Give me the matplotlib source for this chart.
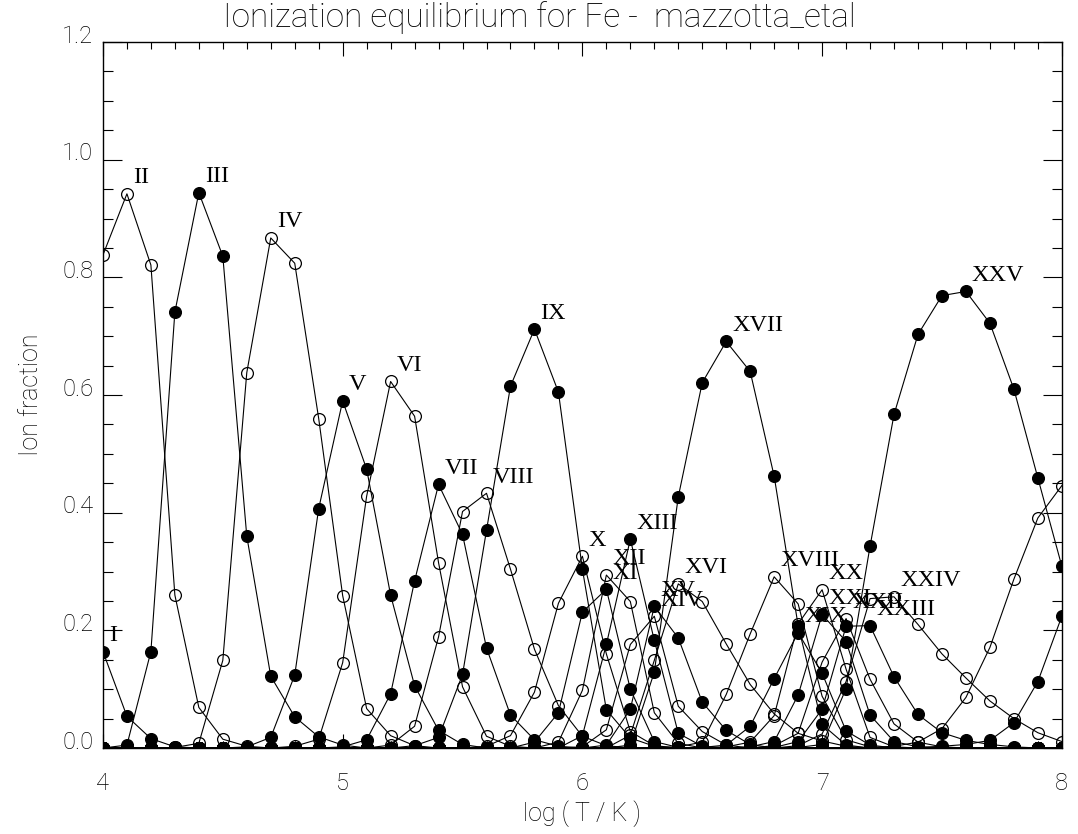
import numpy as np
import matplotlib
matplotlib.use('Agg')
import matplotlib.pyplot as plt
import matplotlib.transforms as mtransforms
from matplotlib.ticker import MultipleLocator

# temperature grid of the ionization table
log_t = np.round(np.arange(4.0, 8.001, 0.1), 1)

ion_names = ['I', 'II', 'III', 'IV', 'V', 'VI', 'VII', 'VIII', 'IX', 'X',
             'XI', 'XII', 'XIII', 'XIV', 'XV', 'XVI', 'XVII', 'XVIII', 'XIX',
             'XX', 'XXI', 'XXII', 'XXIII', 'XXIV', 'XXV', 'XXVI', 'XXVII']

# first log T of each ion's non-zero stretch
t_first = [4.0, 4.0, 4.1, 4.3, 4.6, 4.8, 5.0, 5.2, 5.3, 5.6,
           5.8, 5.9, 6.0, 6.0, 6.1, 6.2, 6.2, 6.4, 6.5,
           6.6, 6.7, 6.8, 6.8, 6.9, 6.9, 7.2, 7.4]

# ion fractions from t_first onwards (zero elsewhere)
fe_01 = [0.164, 0.054, 0.016, 0.002]
fe_02 = [0.838, 0.942, 0.821, 0.260, 0.069, 0.015, 0.003]
fe_03 = [0.005, 0.164, 0.741, 0.944, 0.836, 0.360, 0.122, 0.053, 0.019, 0.005]
fe_04 = [0.001, 0.008, 0.149, 0.638, 0.867, 0.824, 0.560, 0.259, 0.067, 0.021, 0.004]
fe_05 = [0.002, 0.018, 0.124, 0.407, 0.590, 0.474, 0.260, 0.106, 0.030, 0.006]
fe_06 = [0.003, 0.015, 0.145, 0.428, 0.623, 0.564, 0.315, 0.104, 0.020, 0.003]
fe_07 = [0.002, 0.014, 0.092, 0.284, 0.448, 0.363, 0.170, 0.056, 0.014, 0.003]
fe_08 = [0.005, 0.037, 0.189, 0.402, 0.433, 0.304, 0.168, 0.072, 0.020, 0.004]
fe_09 = [0.004, 0.018, 0.125, 0.370, 0.615, 0.712, 0.605, 0.304, 0.065, 0.017, 0.003]
fe_10 = [0.003, 0.021, 0.095, 0.246, 0.326, 0.160, 0.028, 0.004]
fe_11 = [0.010, 0.060, 0.231, 0.270, 0.100, 0.011, 0.001]
fe_12 = [0.010, 0.098, 0.294, 0.249, 0.060, 0.008]
fe_13 = [0.021, 0.176, 0.355, 0.183, 0.025, 0.003]
fe_14 = [0.002, 0.031, 0.176, 0.224, 0.071, 0.028, 0.005]
fe_15 = [0.005, 0.066, 0.241, 0.187, 0.078, 0.030, 0.006]
fe_16 = [0.022, 0.149, 0.279, 0.249, 0.177, 0.108, 0.058, 0.025, 0.012, 0.003]
fe_17 = [0.005, 0.129, 0.427, 0.621, 0.691, 0.640, 0.462, 0.208, 0.040, 0.005]
fe_18 = [0.002, 0.010, 0.091, 0.194, 0.291, 0.245, 0.088, 0.014, 0.002]
fe_19 = [0.001, 0.005, 0.037, 0.118, 0.196, 0.127, 0.029, 0.005]
fe_20 = [0.002, 0.010, 0.055, 0.211, 0.269, 0.134, 0.018, 0.002]
fe_21 = [0.002, 0.011, 0.090, 0.227, 0.181, 0.056, 0.011, 0.002]
fe_22 = [0.004, 0.025, 0.146, 0.220, 0.117, 0.041, 0.010, 0.002]
fe_23 = [0.001, 0.011, 0.066, 0.207, 0.208, 0.121, 0.057, 0.026, 0.013, 0.006, 0.002]
fe_24 = [0.004, 0.024, 0.113, 0.254, 0.257, 0.210, 0.160, 0.119, 0.080, 0.050, 0.026, 0.011]
fe_25 = [0.001, 0.006, 0.101, 0.343, 0.567, 0.703, 0.769, 0.776, 0.722, 0.610, 0.459, 0.309]
fe_26 = [0.001, 0.003, 0.010, 0.033, 0.086, 0.171, 0.287, 0.391, 0.446]
fe_27 = [0.001, 0.003, 0.006, 0.013, 0.043, 0.113, 0.224]

ion_values = [fe_01, fe_02, fe_03, fe_04, fe_05, fe_06, fe_07, fe_08, fe_09,
              fe_10, fe_11, fe_12, fe_13, fe_14, fe_15, fe_16, fe_17, fe_18,
              fe_19, fe_20, fe_21, fe_22, fe_23, fe_24, fe_25, fe_26, fe_27]


def full_curve(t0, vals):
    frac = np.zeros(len(log_t))
    i0 = int(round((t0 - log_t[0]) * 10))
    frac[i0:i0 + len(vals)] = vals
    return frac


line_font = ['Roboto', 'DejaVu Sans']
num_font = ['Liberation Serif', 'DejaVu Serif']

fig = plt.figure(figsize=(10.78, 8.34), dpi=100)
ax = fig.add_axes([0.0955, 0.1031, 0.8895, 0.8465])

for k, (name, t0, vals) in enumerate(zip(ion_names, t_first, ion_values)):
    frac = full_curve(t0, vals)
    face = 'black' if k % 2 == 0 else 'none'
    ax.plot(log_t, frac, color='black', lw=0.8, marker='o', ms=8.5,
            mfc=face, mec='black', mew=0.9)
    # label each ion just above and to the right of its maximum,
    # unless the maximum is at the hot end of the grid
    i_max = int(np.argmax(frac))
    if i_max < len(log_t) - 1:
        ax.text(log_t[i_max] + 0.025, frac[i_max] + 0.018, name,
                family=num_font, fontsize=17.5, ha='left', va='baseline')

ax.set_xlim(4, 8)
ax.set_ylim(0, 1.2)
ax.xaxis.set_major_locator(MultipleLocator(1))
ax.xaxis.set_minor_locator(MultipleLocator(0.1))
ax.yaxis.set_major_locator(MultipleLocator(0.2))
ax.yaxis.set_minor_locator(MultipleLocator(0.05))
ax.xaxis.set_major_formatter(plt.FuncFormatter(lambda v, p: '%d' % v))
ax.yaxis.set_major_formatter(plt.FuncFormatter(lambda v, p: '%.1f' % v))

ax.tick_params(axis='x', which='major', direction='in', length=10, width=0.8,
               top=True, pad=17)
ax.tick_params(axis='x', which='minor', direction='in', length=5, width=0.8,
               top=True)
ax.tick_params(axis='y', which='major', direction='in', length=13.5, width=0.8,
               right=True, pad=7)
ax.tick_params(axis='y', which='minor', direction='in', length=7, width=0.8,
               right=True)
for side in ax.spines.values():
    side.set_linewidth(1.0)

for lab in ax.get_xticklabels() + ax.get_yticklabels():
    lab.set_family(line_font)
    lab.set_fontweight('light')
    lab.set_fontsize(17)
    lab.set_color('black')
# y labels sit a little above their ticks
shift = mtransforms.ScaledTranslation(0, 6 / 72, fig.dpi_scale_trans)
for lab in ax.get_yticklabels():
    lab.set_transform(lab.get_transform() + shift)

ax.set_xlabel('log ( T / K )', family=line_font, fontweight='light',
              fontsize=18, color='black', labelpad=4)
ax.set_ylabel('Ion fraction', family=line_font, fontweight='light',
              fontsize=18, color='black', labelpad=14)
fig.text(0.5, 0.968, 'Ionization equilibrium for Fe -  mazzotta_etal',
         family=line_font, fontweight='light', fontsize=24,
         color='black', ha='center', va='baseline')

fig.savefig('out.png', dpi=100)
